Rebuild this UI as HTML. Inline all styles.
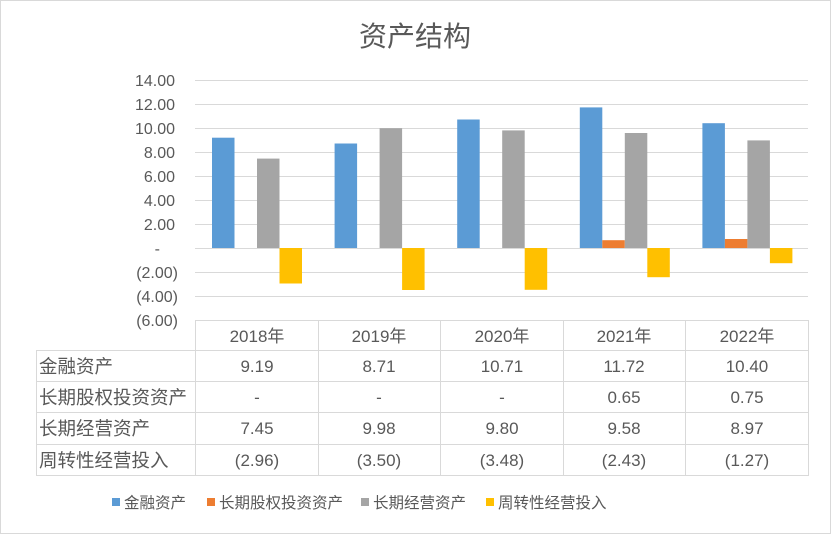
<!DOCTYPE html>
<html><head><meta charset="utf-8"><style>
body{margin:0;background:#fff}
svg{display:block;font-family:"Liberation Sans","Noto Sans CJK SC",sans-serif}
</style></head><body>
<svg width="832" height="535" viewBox="0 0 832 535" xmlns="http://www.w3.org/2000/svg">
<rect x="0.5" y="0.5" width="830" height="533" fill="#fff" stroke="#d9d9d9"/>
<text x="415" y="46" text-anchor="middle" font-size="28" fill="#595959">资产结构</text>
<g stroke="#d9d9d9" stroke-width="1">
<line x1="195" x2="808" y1="80.5" y2="80.5"/><line x1="195" x2="808" y1="104.5" y2="104.5"/>
<line x1="195" x2="808" y1="128.5" y2="128.5"/><line x1="195" x2="808" y1="152.5" y2="152.5"/>
<line x1="195" x2="808" y1="176.5" y2="176.5"/><line x1="195" x2="808" y1="200.5" y2="200.5"/>
<line x1="195" x2="808" y1="224.5" y2="224.5"/><line x1="195" x2="808" y1="248.5" y2="248.5"/>
<line x1="195" x2="808" y1="272.5" y2="272.5"/><line x1="195" x2="808" y1="296.5" y2="296.5"/>
</g>
<g font-size="16" fill="#595959" text-anchor="end">
<text x="175" y="86">14.00</text><text x="175" y="110">12.00</text><text x="175" y="134">10.00</text>
<text x="175" y="158">8.00</text><text x="175" y="182">6.00</text><text x="175" y="206">4.00</text>
<text x="175" y="230">2.00</text><text x="160" y="254">-</text><text x="178" y="278">(2.00)</text>
<text x="178" y="302">(4.00)</text><text x="178" y="326">(6.00)</text>
</g>
<g>
<rect x="212" y="137.7" width="22.5" height="110.3" fill="#5b9bd5"/>
<rect x="334.6" y="143.5" width="22.5" height="104.5" fill="#5b9bd5"/>
<rect x="457.2" y="119.5" width="22.5" height="128.5" fill="#5b9bd5"/>
<rect x="579.8" y="107.4" width="22.5" height="140.6" fill="#5b9bd5"/>
<rect x="702.4" y="123.2" width="22.5" height="124.8" fill="#5b9bd5"/>
<rect x="602.3" y="240.2" width="22.5" height="7.8" fill="#ed7d31"/>
<rect x="724.9" y="239" width="22.5" height="9" fill="#ed7d31"/>
<rect x="257" y="158.6" width="22.5" height="89.4" fill="#a5a5a5"/>
<rect x="379.6" y="128.2" width="22.5" height="119.8" fill="#a5a5a5"/>
<rect x="502.2" y="130.4" width="22.5" height="117.6" fill="#a5a5a5"/>
<rect x="624.8" y="133" width="22.5" height="115" fill="#a5a5a5"/>
<rect x="747.4" y="140.4" width="22.5" height="107.6" fill="#a5a5a5"/>
<rect x="279.5" y="248" width="22.5" height="35.5" fill="#ffc000"/>
<rect x="402.1" y="248" width="22.5" height="42" fill="#ffc000"/>
<rect x="524.7" y="248" width="22.5" height="41.8" fill="#ffc000"/>
<rect x="647.3" y="248" width="22.5" height="29.2" fill="#ffc000"/>
<rect x="769.9" y="248" width="22.5" height="15.2" fill="#ffc000"/>
</g>
<g stroke="#d9d9d9" stroke-width="1" fill="none">
<line x1="195.5" y1="320" x2="195.5" y2="476"/>
<line x1="318.5" y1="320" x2="318.5" y2="476"/>
<line x1="440.5" y1="320" x2="440.5" y2="476"/>
<line x1="563.5" y1="320" x2="563.5" y2="476"/>
<line x1="685.5" y1="320" x2="685.5" y2="476"/>
<line x1="808.5" y1="320" x2="808.5" y2="476"/>
<line x1="36.5" y1="350" x2="36.5" y2="476"/>
<line x1="195" y1="320.5" x2="808" y2="320.5"/>
<line x1="36" y1="350.5" x2="808" y2="350.5"/>
<line x1="36" y1="381.5" x2="808" y2="381.5"/>
<line x1="36" y1="412.5" x2="808" y2="412.5"/>
<line x1="36" y1="444.5" x2="808" y2="444.5"/>
<line x1="36" y1="475.5" x2="808" y2="475.5"/>
</g>
<g font-size="17" fill="#595959" text-anchor="middle">
<text x="257" y="342">2018年</text><text x="379" y="342">2019年</text><text x="502" y="342">2020年</text><text x="624" y="342">2021年</text><text x="747" y="342">2022年</text>
<text x="257" y="372">9.19</text><text x="379" y="372">8.71</text><text x="502" y="372">10.71</text><text x="624" y="372">11.72</text><text x="747" y="372">10.40</text>
<text x="257" y="403">-</text><text x="379" y="403">-</text><text x="502" y="403">-</text><text x="624" y="403">0.65</text><text x="747" y="403">0.75</text>
<text x="257" y="434">7.45</text><text x="379" y="434">9.98</text><text x="502" y="434">9.80</text><text x="624" y="434">9.58</text><text x="747" y="434">8.97</text>
<text x="257" y="466">(2.96)</text><text x="379" y="466">(3.50)</text><text x="502" y="466">(3.48)</text><text x="624" y="466">(2.43)</text><text x="747" y="466">(1.27)</text>
</g>
<g font-size="18.5" fill="#595959">
<text x="39" y="373">金融资产</text>
<text x="39" y="404">长期股权投资资产</text>
<text x="39" y="435">长期经营资产</text>
<text x="39" y="467">周转性经营投入</text>
</g>
<g font-size="15.5" fill="#595959">
<rect x="112" y="498" width="8" height="8" fill="#5b9bd5"/><text x="124" y="508">金融资产</text>
<rect x="207" y="498" width="8" height="8" fill="#ed7d31"/><text x="219" y="508">长期股权投资资产</text>
<rect x="361" y="498" width="8" height="8" fill="#a5a5a5"/><text x="373" y="508">长期经营资产</text>
<rect x="486" y="498" width="8" height="8" fill="#ffc000"/><text x="498" y="508">周转性经营投入</text>
</g>
</svg>
</body></html>
